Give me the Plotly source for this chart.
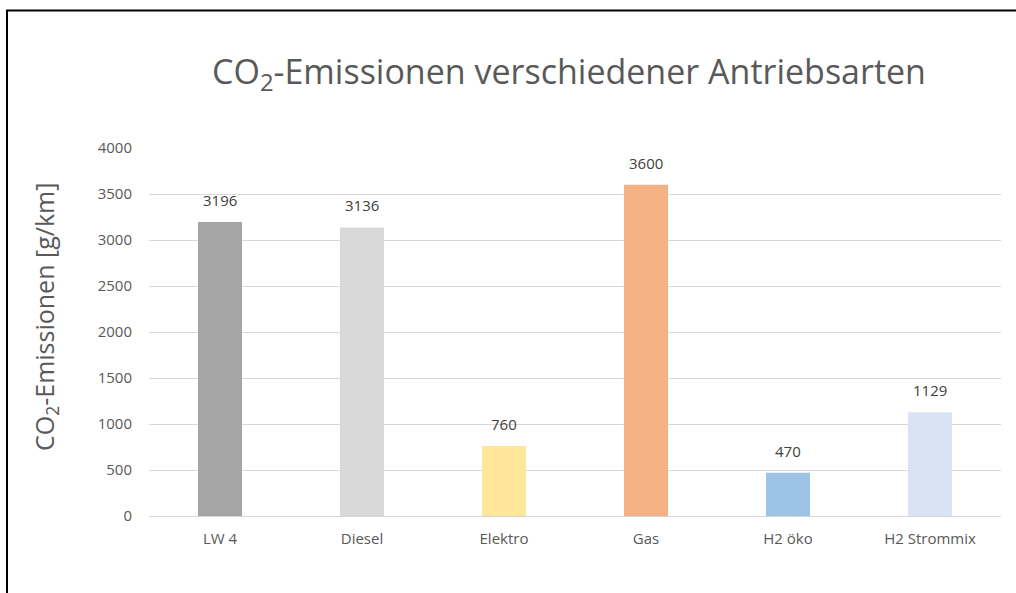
import plotly.graph_objects as go

# Antriebsarten und ihre CO2-Emissionen in g/km
categories = ["LW 4", "Diesel", "Elektro", "Gas", "H2 öko", "H2 Strommix"]
emissions = [3196, 3136, 760, 3600, 470, 1129]
bar_colors = ["#a5a5a5", "#d9d9d9", "#ffe699", "#f4b183", "#9dc3e6", "#dae3f3"]
y_ticks = [0, 500, 1000, 1500, 2000, 2500, 3000, 3500, 4000]

W, H = 1016, 593
L, R, T, B = 149, 15, 148, 77

fig = go.Figure()
fig.add_trace(go.Bar(
    x=categories,
    y=emissions,
    marker=dict(color=bar_colors, line=dict(width=0)),
    width=0.31,
    hoverinfo="skip",
))

# Wertbeschriftungen über den Balken
for cat, val in zip(categories, emissions):
    fig.add_annotation(
        x=cat, y=val, text=str(val),
        showarrow=False, yanchor="bottom", yshift=10,
        font=dict(family="Open Sans", size=15, color="#404040"),
    )

# Hilfsfunktionen: Pixel -> Papierkoordinaten
pw, ph = W - L - R, H - T - B
def px(x):
    return (x - L) / pw
def py(y):
    return (H - B - y) / ph

# Achsentitel der y-Achse
fig.add_annotation(
    xref="paper", yref="paper", x=px(45), y=py(317),
    xanchor="center", yanchor="middle", textangle=-90,
    text="CO<sub>2</sub>-Emissionen [g/km]", showarrow=False,
    font=dict(family="Open Sans", size=25, color="#595959"),
)

# Rahmen um das Diagramm (oben und links sichtbar)
fig.add_shape(type="line", xref="paper", yref="paper",
              x0=px(6), x1=px(1030), y0=py(10.5), y1=py(10.5),
              line=dict(color="#000000", width=2))
fig.add_shape(type="line", xref="paper", yref="paper",
              x0=px(7), x1=px(7), y0=py(10), y1=py(610),
              line=dict(color="#000000", width=2))

fig.update_layout(
    width=W, height=H,
    margin=dict(l=L, r=R, t=T, b=B),
    paper_bgcolor="#ffffff",
    plot_bgcolor="#ffffff",
    showlegend=False,
    bargap=0.69,
    title=dict(
        text="CO<sub>2</sub>-Emissionen verschiedener Antriebsarten",
        x=569 / W, xanchor="center",
        y=1 - 72 / H, yanchor="middle",
        font=dict(family="Open Sans", size=34, color="#595959"),
    ),
    font=dict(family="Open Sans", color="#595959"),
    xaxis=dict(
        tickfont=dict(size=15, color="#595959"),
        showgrid=False,
        showline=True, linecolor="#d9d9d9", linewidth=1,
        ticks="", ticklabelstandoff=9,
    ),
    yaxis=dict(
        range=[0, 4000],
        tickvals=y_ticks,
        tickfont=dict(size=15, color="#595959"),
        showgrid=True, gridcolor="#d9d9d9", gridwidth=1,
        zeroline=False, showline=False, ticks="",
        ticklabelstandoff=16,
    ),
)

fig.write_html("out.html")
